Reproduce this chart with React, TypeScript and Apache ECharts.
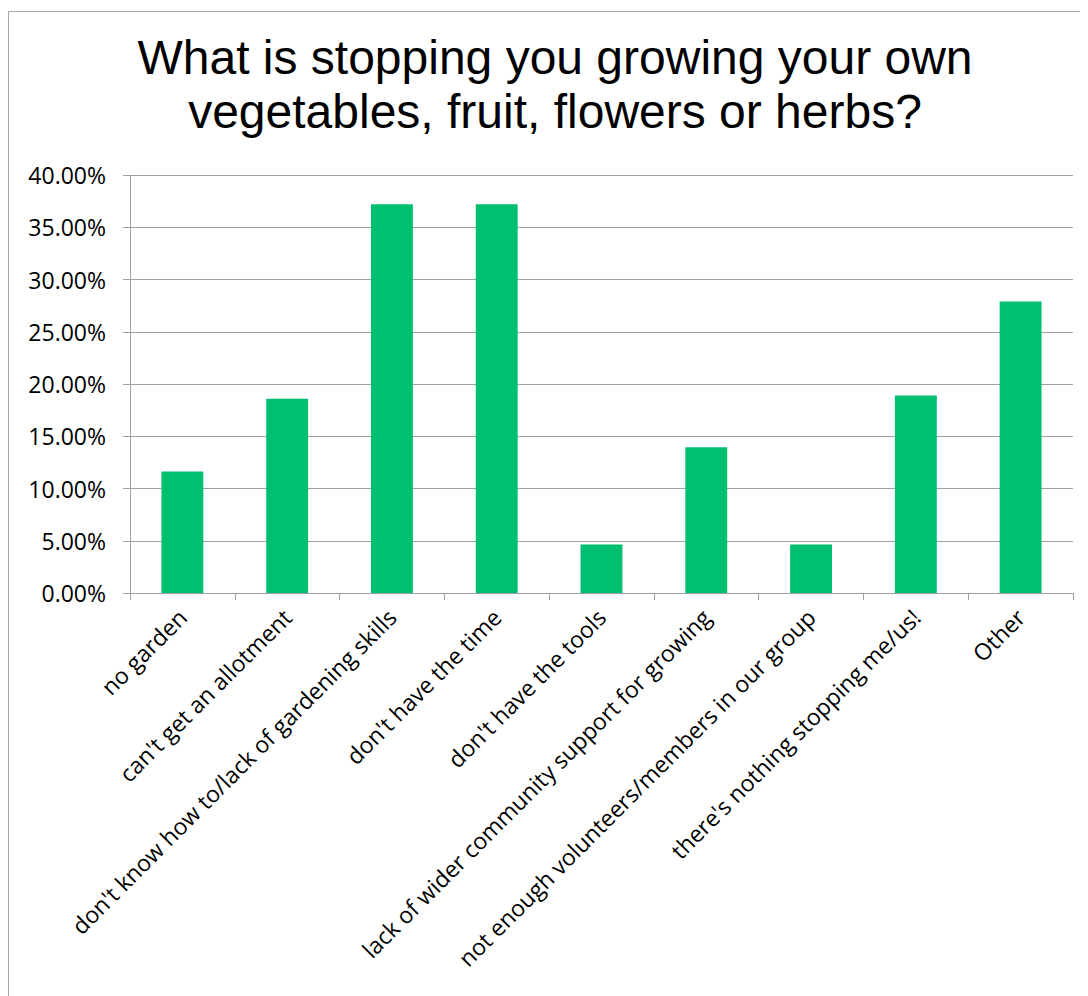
import React, { useEffect, useRef } from "react";
import * as echarts from "echarts";

const titleLines = [
  "What is stopping you growing your own",
  "vegetables, fruit, flowers or herbs?",
];
const categories = [
  "no garden",
  "can't get an allotment",
  "don't know how to/lack of gardening skills",
  "don't have the time",
  "don't have the tools",
  "lack of wider community support for growing",
  "not enough volunteers/members in our group",
  "there's nothing stopping me/us!",
  "Other",
];
const values = [11.63, 18.6, 37.21, 37.21, 4.65, 13.95, 4.65, 18.9, 27.9];
const yMin = 0;
const yMax = 40;
const yStep = 5;

export default function App() {
  const ref = useRef<HTMLDivElement>(null);
  useEffect(() => {
    if (!ref.current) return;
    const chart = echarts.init(ref.current, undefined, { renderer: "svg" });
    chart.setOption({
      animation: false,
      backgroundColor: "#ffffff",
      title: {
        text: titleLines.join("\n"),
        left: 542,
        top: 17,
        textAlign: "center",
        textStyle: {
          fontFamily: "Liberation Sans, Arial, sans-serif",
          fontSize: 48,
          fontWeight: "normal",
          color: "#000000",
          lineHeight: 54,
        },
      },
      graphic: [
        {
          type: "line",
          shape: { x1: 0.5, y1: 3.5, x2: 1200, y2: 3.5 },
          style: { stroke: "#A6A6A6", lineWidth: 1 },
        },
        {
          type: "line",
          shape: { x1: 0.5, y1: 3.5, x2: 0.5, y2: 1200 },
          style: { stroke: "#A6A6A6", lineWidth: 1 },
        },
      ],
      grid: { left: 122, top: 167, right: 15, bottom: 403, containLabel: false },
      xAxis: {
        type: "category",
        data: categories,
        axisLine: { show: true, lineStyle: { color: "#A0A0A0", width: 1 } },
        axisTick: { show: true, alignWithLabel: false, length: 7, lineStyle: { color: "#A0A0A0" } },
        axisLabel: {
          rotate: 45,
          interval: 0,
          margin: 20,
          fontFamily: "Open Sans, sans-serif",
          fontSize: 23,
          color: "#000000",
        },
      },
      yAxis: {
        type: "value",
        min: yMin,
        max: yMax,
        interval: yStep,
        axisLine: { show: true, lineStyle: { color: "#A0A0A0", width: 1 } },
        axisTick: { show: true, inside: false, length: 7, lineStyle: { color: "#A0A0A0" } },
        splitLine: { show: true, lineStyle: { color: "#A0A0A0", width: 1 } },
        axisLabel: {
          margin: 24,
          fontFamily: "Open Sans, sans-serif",
          fontSize: 23,
          color: "#000000",
          formatter: (v: number) => v.toFixed(2) + "%",
        },
      },
      series: [
        {
          type: "bar",
          data: values,
          barWidth: "40%",
          itemStyle: { color: "#00BF6F" },
        },
      ],
    });
    return () => chart.dispose();
  }, []);
  return <div ref={ref} style={{ width: 1080, height: 988 }} />;
}
